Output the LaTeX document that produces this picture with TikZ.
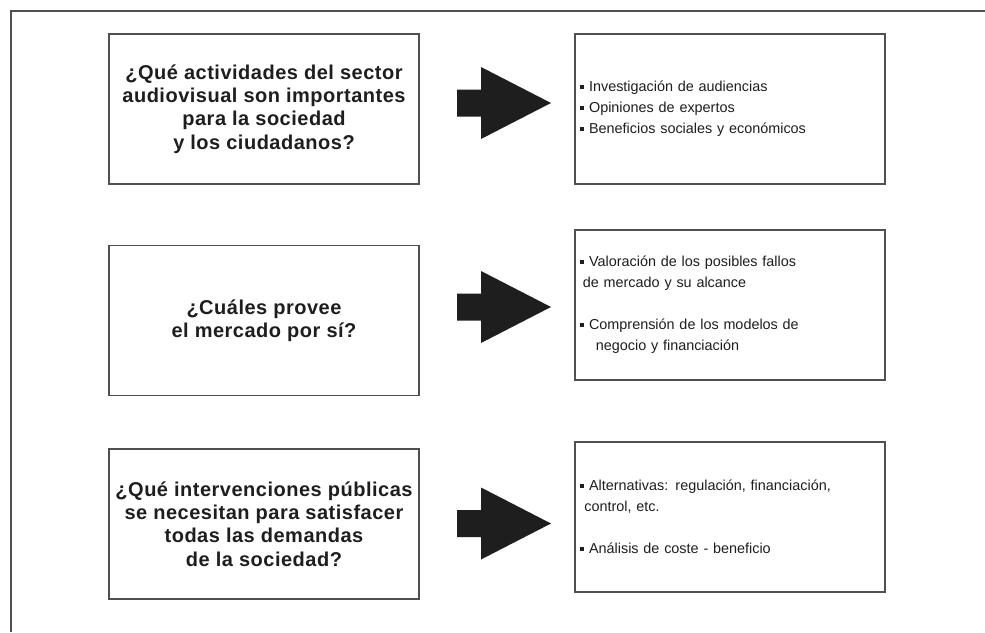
\documentclass[tikz,border=0pt]{standalone}
\usepackage{fontspec}
\setmainfont{Liberation Sans}
\definecolor{linegray}{RGB}{80,80,80}
\definecolor{inkblack}{RGB}{30,30,30}
\newcommand{\bul}{\rule[0.22em]{0.28em}{0.28em}\hspace{0.35em}}
\tikzset{
  qbox/.style={draw=linegray, line width=0.9pt, minimum width=232.5pt, minimum height=112.5pt,
    align=center, text=inkblack, font=\bfseries\fontsize{15}{17.5}\selectfont\addfontfeatures{LetterSpace=2.5}},
  abox/.style={draw=linegray, line width=0.9pt, minimum width=232.5pt, minimum height=112.5pt,
    text width=225pt, inner xsep=3.75pt, align=left, text=inkblack, font=\fontsize{10.8}{15.75}\selectfont},
  bigarrow/.pic={\fill[inkblack] (0,-13.5) -- (24,-13.5) -- (24,-36) -- (94,0) -- (24,36) -- (24,13.5) -- (0,13.5) -- cycle;}
}
\begin{document}
\begin{tikzpicture}[x=0.75pt,y=-0.75pt]
\useasboundingbox [fill=white] (0,0) rectangle (985,632);
\draw [linegray, line width=0.9pt] (985,11) -- (11,11) -- (11,632);
\node [qbox] (q1) at (264,109) {¿Qué actividades del sector\\ audiovisual son importantes\\ para la sociedad\\ y los ciudadanos?};
\node [qbox] (q2) at (264,320.5) {¿Cuáles provee\\ el mercado por sí?};
\node [qbox] (q3) at (264,524) {¿Qué intervenciones públicas\\ se necesitan para satisfacer\\ todas las demandas\\ de la sociedad?};
\node [abox] (a1) at (730,109) {\bul Investigación de audiencias\\ \bul Opiniones de expertos\\ \bul Beneficios sociales y económicos};
\node [abox] (a2) at (730,305) {\bul Valoración de los posibles fallos\\ \hspace*{0.2em}de mercado y su alcance\\[15.75pt] \bul Comprensión de los modelos de\\ \hspace*{1.1em}negocio y financiación};
\node [abox] (a3) at (730,517) {\bul Alternativas: regulación, financiación,\\ \hspace*{0.3em}control, etc.\\[15.75pt] \bul Análisis de coste - beneficio};
\pic at (457,103) {bigarrow};
\pic at (457,307) {bigarrow};
\pic at (457,523.5) {bigarrow};
\end{tikzpicture}
\end{document}
